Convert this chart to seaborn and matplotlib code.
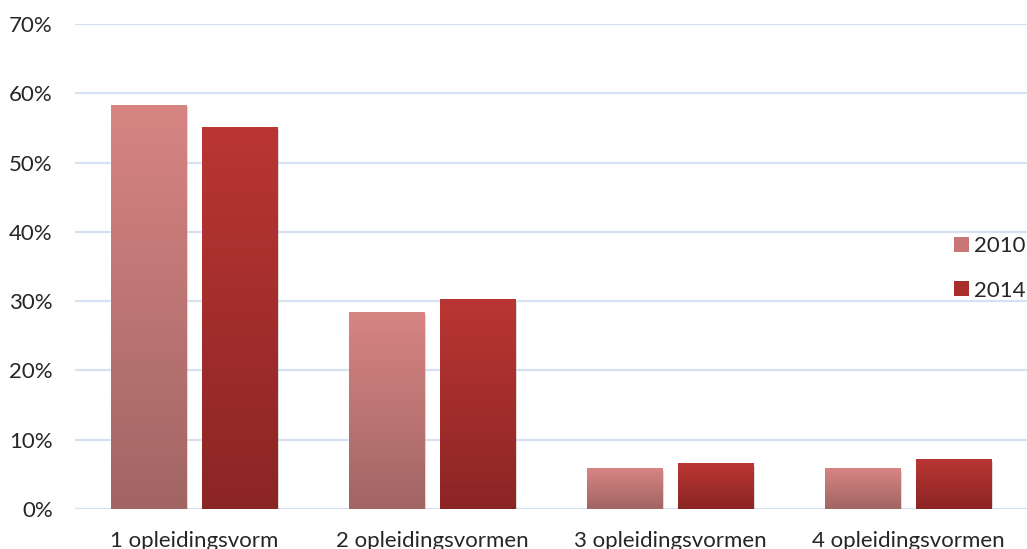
import numpy as np
import pandas as pd
import matplotlib
matplotlib.use('Agg')
import matplotlib.pyplot as plt
import matplotlib.patheffects as pe
from matplotlib.colors import LinearSegmentedColormap
from matplotlib.ticker import PercentFormatter
from matplotlib.patches import Patch
import seaborn as sns

# data
categories = ['1 opleidingsvorm', '2 opleidingsvormen', '3 opleidingsvormen', '4 opleidingsvormen']
years = ['2010', '2014']
values_2010 = [0.583, 0.283, 0.058, 0.058]
values_2014 = [0.551, 0.302, 0.065, 0.071]

# top / bottom colours of the gradient per year
top_colors = {'2010': '#D78583', '2014': '#BA3634'}
bottom_colors = {'2010': '#A16564', '2014': '#8B2524'}
legend_colors = {'2010': '#C97775', '2014': '#A82E2C'}

d = pd.DataFrame({
    'categorie': categories * 2,
    'jaar': ['2010'] * 4 + ['2014'] * 4,
    'waarde': values_2010 + values_2014,
})

sns.set_style('white')
plt.rcParams['font.family'] = ['Lato', 'DejaVu Sans']

fig = plt.figure(figsize=(10.27, 5.49), dpi=100)
ax = fig.add_axes([0.073, 0.0729, 0.927, 0.8834])

sns.barplot(data=d, x='categorie', y='waarde', hue='jaar', hue_order=years,
            order=categories, width=0.76, gap=0.17, palette=legend_colors,
            legend=False, ax=ax, zorder=2)

# gradient fill on every bar, with a soft grey shadow
for container, yr in zip(ax.containers, years):
    cmap = LinearSegmentedColormap.from_list(yr, [bottom_colors[yr], top_colors[yr]])
    for bar in container:
        x, y = bar.get_x(), bar.get_y()
        w, h = bar.get_width(), bar.get_height()
        bar.set_path_effects([pe.SimplePatchShadow(offset=(1.5, -1.5), shadow_rgbFace='#808080', alpha=0.35),
                              pe.Normal()])
        grad = np.linspace(0, 1, 256).reshape(-1, 1)
        ax.imshow(grad, cmap=cmap, origin='lower', aspect='auto',
                  extent=(x, x + w, y, y + h), zorder=3)

ax.set_xlim(-0.5, 3.5)
ax.set_ylim(0, 0.7)
ax.set_yticks(np.arange(0, 0.71, 0.1))
ax.yaxis.set_major_formatter(PercentFormatter(1.0, decimals=0))
ax.grid(axis='y', color='#D6E2F1', linewidth=1.6, zorder=0)
ax.set_axisbelow(True)
sns.despine(ax=ax, left=True, bottom=True, right=True, top=True)
ax.tick_params(axis='y', length=0, pad=16, labelsize=16)
ax.tick_params(axis='x', length=0, pad=16, labelsize=16)
ax.set_xlabel('')
ax.set_ylabel('')

handles = [Patch(facecolor=legend_colors[yr], edgecolor='none') for yr in years]
fig.legend(handles, years, loc='center left', bbox_to_anchor=(0.929, 0.511),
           frameon=False, fontsize=16, handlelength=0.65, handleheight=0.65,
           handletextpad=0.25, labelspacing=1.1, borderaxespad=0, borderpad=0)

plt.savefig('out.png', dpi=100)
